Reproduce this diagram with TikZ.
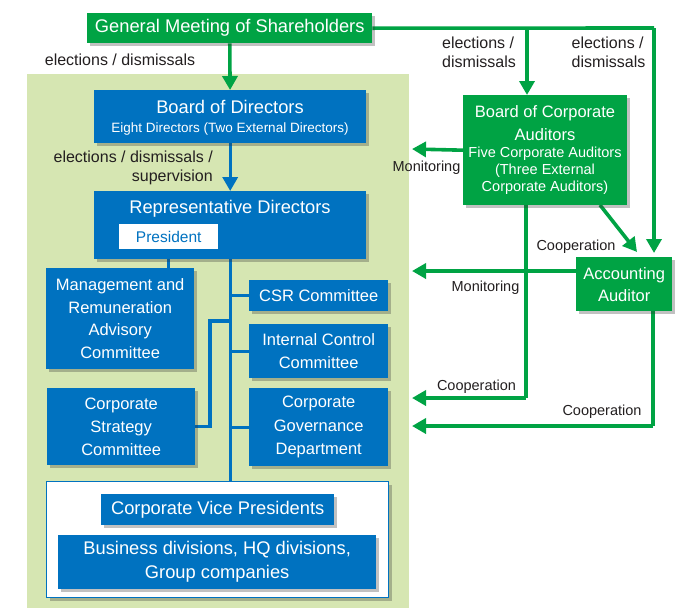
\documentclass[tikz,border=0pt]{standalone}
\usepackage{fontspec}
\setmainfont{Liberation Sans}
\usetikzlibrary{arrows.meta,shadows}
\definecolor{gr}{RGB}{0,163,68}
\definecolor{bl}{RGB}{0,114,192}
\definecolor{panelbg}{RGB}{214,230,178}
\definecolor{txt}{RGB}{35,31,32}
\pgfdeclarelayer{lines}
\pgfsetlayers{lines,main}
\newcommand\fT{\fontsize{18.3}{24}\selectfont}
\newcommand\fC{\fontsize{16.5}{22.5}\selectfont}
\newcommand\fS{\fontsize{13.5}{16}\selectfont}
\newcommand\fL{\fontsize{16}{19}\selectfont}
\newcommand\fM{\fontsize{14.5}{17}\selectfont}
\tikzset{
  box/.style={anchor=north west, inner sep=0pt, align=center, text=white,
    drop shadow={shadow xshift=3pt, shadow yshift=-3pt, opacity=0.3, fill=black!80}},
  bbox/.style={box, fill=bl},
  gbox/.style={box, fill=gr},
  intext/.style={inner sep=0pt, align=center, text=white},
  gline/.style={draw=gr, line width=3.6pt},
  garrow/.style={gline, -{Triangle[length=14pt,width=15pt]}},
  bline/.style={draw=bl, line width=3.4pt},
  barrow/.style={bline, -{Triangle[length=14pt,width=15pt]}},
  lab/.style={text=txt, inner sep=0pt, align=center},
}
\begin{document}
\begin{tikzpicture}[x=1pt,y=-1pt]
\useasboundingbox (0,0) rectangle (687,608);
\begin{pgfonlayer}{lines}
\path[fill=panelbg] (27,74) rectangle (409,608);
\end{pgfonlayer}

% top
\node[gbox, minimum width=285pt, minimum height=30pt, font=\fT] (gms) at (87,13) {General Meeting of Shareholders};

% board of directors
\node[bbox, minimum width=272pt, minimum height=53pt] (bod) at (94,90) {};
\node[intext, font=\fT] (bodt) at (230,107) {Board of Directors};
\node[intext, font=\fS] (bods) at (230,129) {Eight Directors (Two External Directors)};

% representative directors
\node[bbox, minimum width=272pt, minimum height=68pt] (rd) at (94,191) {};
\node[intext, font=\fT] (rdt) at (230,209) {Representative Directors};
\node[anchor=north west, inner sep=0pt, fill=white, text=bl, font=\fontsize{15.5}{18}\selectfont, minimum width=99pt, minimum height=25pt] (pres) at (119,224) {President};

% committees
\node[bbox, minimum width=148pt, minimum height=101pt, font=\fC] (mgmt) at (46,268) {Management and\\Remuneration\\Advisory\\Committee};
\node[bbox, minimum width=139pt, minimum height=31pt, font=\fC] (csr) at (249,280) {CSR Committee};
\node[bbox, minimum width=139pt, minimum height=54pt, font=\fC] (ic) at (249,324) {Internal Control\\Committee};
\node[bbox, minimum width=139pt, minimum height=78pt, font=\fontsize{16.5}{23.5}\selectfont] (cg) at (249,388) {Corporate\\Governance\\Department};
\node[bbox, minimum width=148pt, minimum height=77pt, font=\fontsize{16.5}{23}\selectfont] (cs) at (47,388) {Corporate\\Strategy\\Committee};

% vice presidents
\node[box, fill=white, draw=bl, line width=1pt, minimum width=342pt, minimum height=116pt] (outer) at (46,481) {};
\node[bbox, minimum width=233pt, minimum height=31pt, font=\fT] (cvp) at (101,494) {Corporate Vice Presidents};
\node[bbox, minimum width=318pt, minimum height=54pt, font=\fT] (biz) at (58,535) {Business divisions, HQ divisions,\\Group companies};

% auditors
\node[gbox, minimum width=164pt, minimum height=110pt] (bca) at (463,95) {};
\node[intext, font=\fontsize{16.5}{23}\selectfont] (bcat) at (545,123.5) {Board of Corporate\\Auditors};
\node[intext, font=\fontsize{14.5}{17}\selectfont] (bcas) at (545,171) {Five Corporate Auditors\\(Three External\\Corporate Auditors)};
\node[gbox, minimum width=96pt, minimum height=54pt, font=\fontsize{16.5}{22}\selectfont] (aa) at (576,257) {Accounting\\Auditor};

% coordinates
\coordinate (tr) at (654,28);
\coordinate (aatop) at (654,253);
\coordinate (br) at (527,28);
\coordinate (bcabot) at (526,205);
\coordinate (c1) at (526,398);
\coordinate (c1end) at (412,398);
\coordinate (aabot) at (653,311);
\coordinate (c2) at (653,426);
\coordinate (c2end) at (412,426);
\coordinate (m1end) at (412,149);
\coordinate (m2start) at (576,271);
\coordinate (m2end) at (412,271);
\coordinate (dg1) at (600,205);
\coordinate (dg2) at (637,252);
\coordinate (s1) at (230,321);
\coordinate (s2) at (210,321);
\coordinate (vp1) at (229,525);
\coordinate (vp2) at (229,535);

\begin{pgfonlayer}{lines}
\draw[garrow] (gms) -- (bod);
\draw[gline] (gms.east) -- (tr);
\draw[garrow] (tr) -- (aatop);
\draw[garrow] (br) -- (bca.north -| br);
\draw[garrow] (bca.west) -- (m1end);
\draw[garrow] (m2start) -- (m2end);
\draw[garrow] (dg1) -- (dg2);
\draw[gline] (bcabot) -- (c1);
\draw[garrow] (c1) -- (c1end);
\draw[gline] (aabot) -- (c2);
\draw[garrow] (c2) -- (c2end);

\draw[barrow] (bod) -- (rd);
\draw[bline] (rd.south) -- (rd.south |- outer.north);
\draw[bline] (pres.south) -- (pres.south |- mgmt.north);
\draw[bline] (rd.south |- csr.west) -- (csr.west);
\draw[bline] (rd.south |- ic.west) -- (ic.west);
\draw[bline] (rd.south |- cg.west) -- (cg.west);
\draw[bline] (s1) -- (s2) |- (cs.east);
\draw[bline] (vp1) -- (vp2);
\end{pgfonlayer}

% labels
\node[lab, font=\fL] (l1) at (120,60) {elections / dismissals};
\node[lab, font=\fL, align=right, anchor=east] (l2) at (213,168) {elections / dismissals /\\supervision};
\node[lab, font=\fL, align=left] (l3) at (479,52.5) {elections /\\dismissals};
\node[lab, font=\fL, align=left] (l4) at (608.5,52.5) {elections /\\dismissals};
\node[lab, font=\fM] (l5) at (426.5,168) {Monitoring};
\node[lab, font=\fM] (l6) at (576,247) {Cooperation};
\node[lab, font=\fM] (l7) at (485.5,288) {Monitoring};
\node[lab, font=\fM] (l8) at (476.5,387) {Cooperation};
\node[lab, font=\fM] (l9) at (602,412) {Cooperation};
\end{tikzpicture}
\end{document}
